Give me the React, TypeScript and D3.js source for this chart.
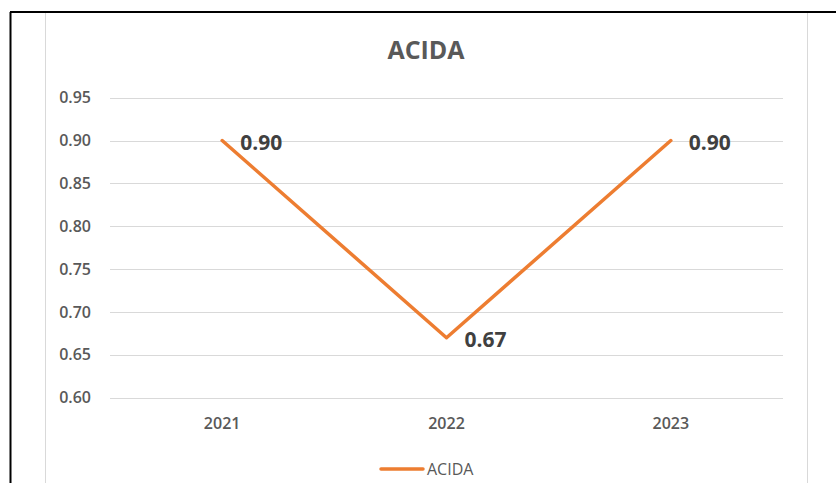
import React from "react";
import * as d3 from "d3";

const categories = ["2021", "2022", "2023"];
const values = [0.9, 0.67, 0.9];
const valueLabels = ["0.90", "0.67", "0.90"];
const yTicks = [0.6, 0.65, 0.7, 0.75, 0.8, 0.85, 0.9, 0.95];
const seriesName = "ACIDA";
const title = "ACIDA";

export default function App() {
  const W = 836, H = 483;
  const left = 110, right = 783, top = 97.7, bottom = 397.7;
  const x = d3.scaleBand().domain(categories).range([left, right]);
  const y = d3.scaleLinear().domain([0.6, 0.95]).range([bottom, top]);
  const cx = (c: string) => (x(c) as number) + x.bandwidth() / 2;
  const line = d3.line<number>().x((_, i) => cx(categories[i])).y((d) => y(d));
  const font = "'Open Sans', 'Liberation Sans', sans-serif";
  return (
    <svg width={W} height={H} style={{ position: "absolute", left: 0, top: 0 }}>
      <rect x={0} y={0} width={W} height={H} fill="#fff" />
      <line x1={10.5} y1={12} x2={10.5} y2={H} stroke="#000" strokeWidth={2} />
      <line x1={10} y1={12} x2={W} y2={12} stroke="#000" strokeWidth={2} />
      <line x1={45.5} y1={13} x2={45.5} y2={H} stroke="#d9d9d9" strokeWidth={1} />
      <line x1={807.5} y1={13} x2={807.5} y2={H} stroke="#d9d9d9" strokeWidth={1} />
      <text x={426} y={59} textAnchor="middle" fontFamily={font} fontWeight="bold" fontSize={25} fill="#595959">{title}</text>
      {yTicks.map((t) => (
        <g key={t}>
          <line x1={left} x2={right} y1={Math.round(y(t)) + 0.5} y2={Math.round(y(t)) + 0.5} stroke="#d9d9d9" strokeWidth={1} />
          <text x={91} y={y(t)} dy="0.35em" textAnchor="end" fontFamily={font} fontWeight={600} fontSize={16} fill="#595959">{t.toFixed(2)}</text>
        </g>
      ))}
      {categories.map((c) => (
        <text key={c} x={cx(c)} y={423} dy="0.35em" textAnchor="middle" fontFamily={font} fontWeight={600} fontSize={16} fill="#595959">{c}</text>
      ))}
      <path d={line(values) || ""} fill="none" stroke="#ED7D31" strokeWidth={3.5} strokeLinejoin="round" strokeLinecap="round" />
      {values.map((v, i) => (
        <text key={i} x={cx(categories[i]) + 18} y={y(v) + 2} dy="0.35em" fontFamily={font} fontWeight="bold" fontSize={21} fill="#404040">{valueLabels[i]}</text>
      ))}
      <line x1={381} x2={423} y1={469} y2={469} stroke="#ED7D31" strokeWidth={3.5} strokeLinecap="round" />
      <text x={427} y={469} dy="0.35em" fontFamily={font} fontSize={16} fill="#595959">{seriesName}</text>
    </svg>
  );
}
